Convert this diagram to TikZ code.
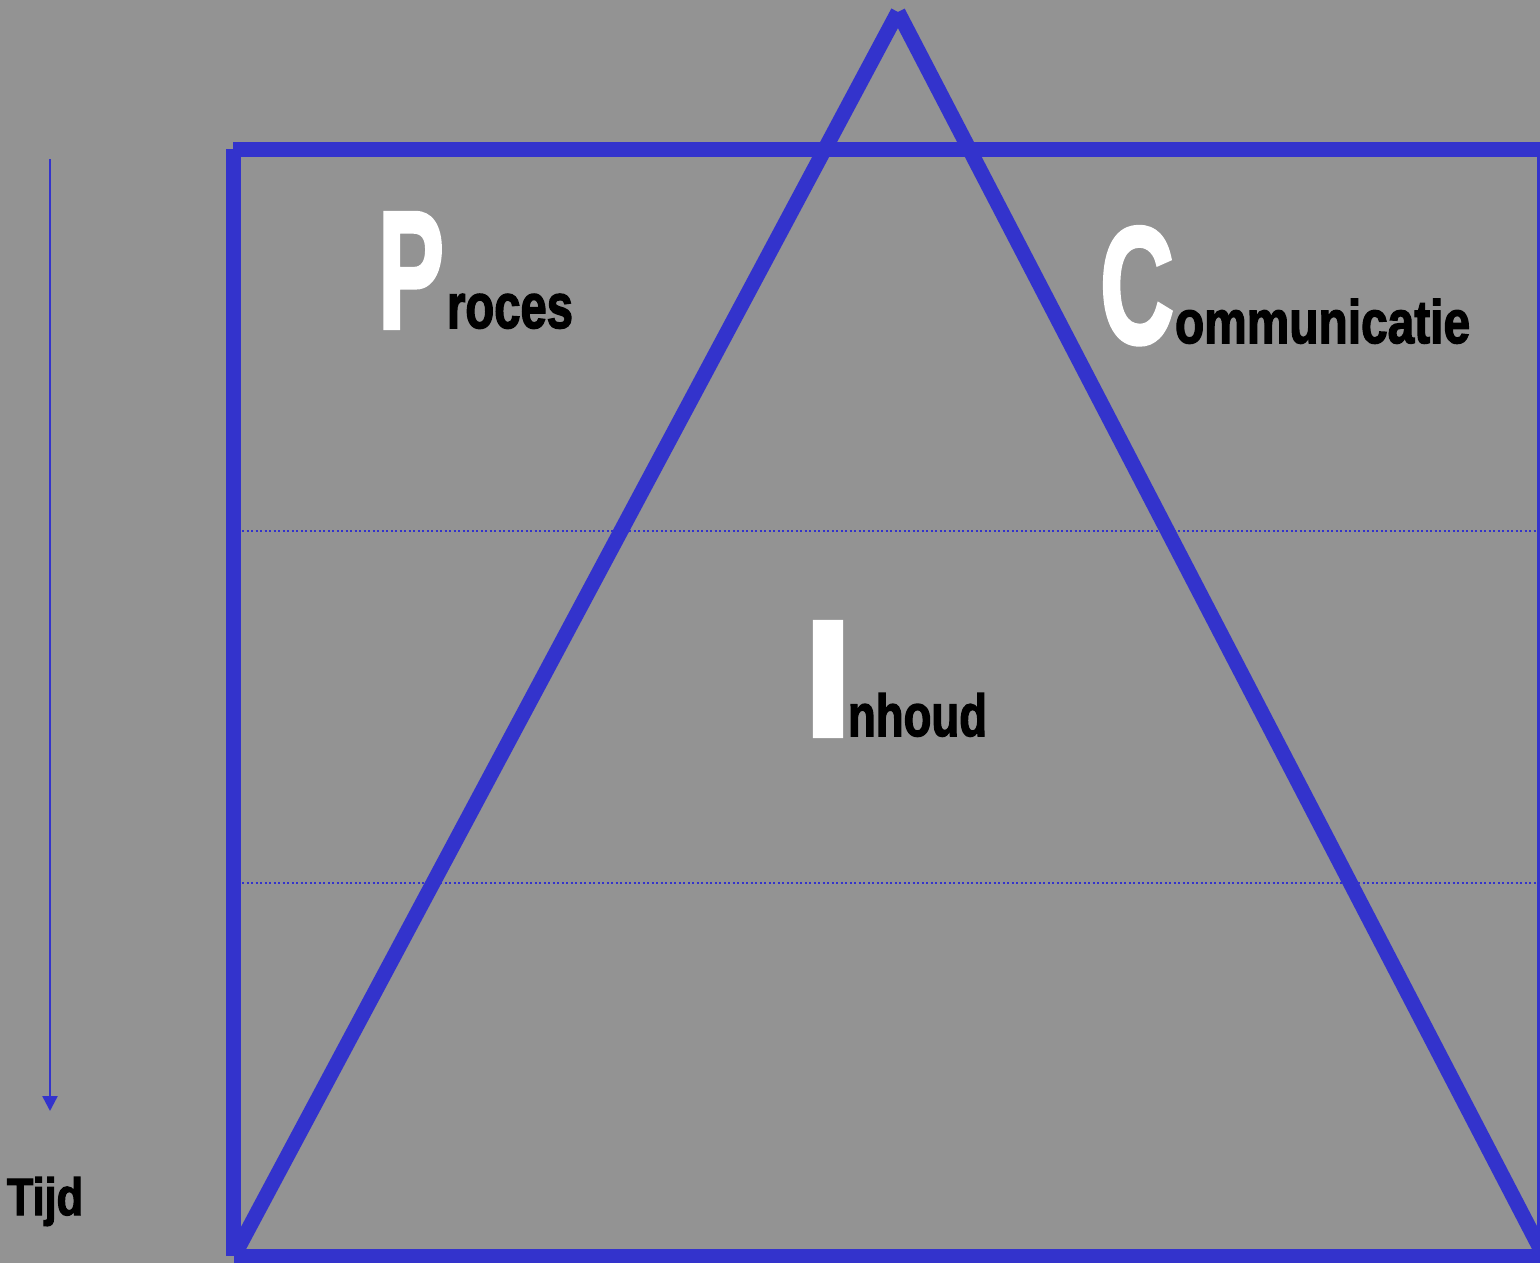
\documentclass[tikz,border=0pt]{standalone}
\usepackage{fontspec}
\usepackage{graphicx}
\usetikzlibrary{arrows.meta}
\newfontfamily\impf{Liberation Sans}[UprightFont={* Bold},FakeBold=2.5]
\definecolor{bgray}{RGB}{147,147,147}
\definecolor{pblue}{RGB}{51,51,204}
\newcommand{\fitbox}[3]{\resizebox{#1}{#2}{\impf #3}}
\tikzset{
  thick line/.style={draw=pblue,line width=15pt,line cap=butt},
  dotline/.style={draw=pblue,line width=2pt,dash pattern=on 2pt off 2.5pt},
  txt/.style={inner sep=0pt,outer sep=0pt,anchor=base west},
  big/.style={txt,text=white},
  small/.style={txt,text=black},
}
\begin{document}
\begin{tikzpicture}[x=1pt,y=-1pt]
\useasboundingbox (0,0) rectangle (1540,1263);
\fill[bgray] (0,0) rectangle (1540,1263);
\clip (0,0) rectangle (1540,1263);
% rectangle corners
\coordinate (rtl) at (233.5,149.5);
\coordinate (rtr) at (1544,149.5);
\coordinate (rbl) at (233.5,1256);
\coordinate (rbr) at (1544,1256);
\coordinate (ltop) at (233.5,149);
\coordinate (ttop) at (233,149.5);
% dotted lines
\coordinate (d1a) at (242,530.5);
\coordinate (d1b) at (1536,530.5);
\coordinate (d2a) at (242,882.5);
\coordinate (d2b) at (1536,882.5);
\draw[dotline] (d1a) -- (d1b);
\draw[dotline] (d2a) -- (d2b);
% rectangle
\draw[thick line] (ttop) -- (rtr);
\draw[thick line] (ltop) -- (rbl);
\draw[thick line] (rbl) -- (rbr);
\draw[thick line] (rtr) -- (rbr);
% triangle
\coordinate (apex) at (898,12);
\coordinate (tbl) at (235,1254);
\coordinate (tbr) at (1543,1254);
\draw[thick line] (apex) -- (tbl);
\draw[thick line] (apex) -- (tbr);
% time arrow
\coordinate (a1) at (50,159);
\coordinate (a2) at (50,1111);
\draw[pblue,line width=2.5pt,-{Triangle[width=15pt,length=15pt]}] (a1) -- (a2);
% texts
\node[big] (P) at (378,328) {\fitbox{66pt}{115pt}{P}};
\node[small] (roces) at (447,328) {\fitbox{126pt}{34pt}{roces}};
\node[big] (C) at (1100,343) {\fitbox{74pt}{116pt}{C}};
\node[small] (ommu) at (1175,343) {\fitbox{295pt}{44pt}{ommunicatie}};
\node[big] (I) at (803,736) {\fitbox{50pt}{114pt}{I}};
\node[small] (nhoud) at (848,736) {\fitbox{139pt}{43pt}{nhoud}};
\node[small] (tijd) at (7,1215) {\fitbox{76pt}{38pt}{Tijd}};
\end{tikzpicture}
\end{document}
